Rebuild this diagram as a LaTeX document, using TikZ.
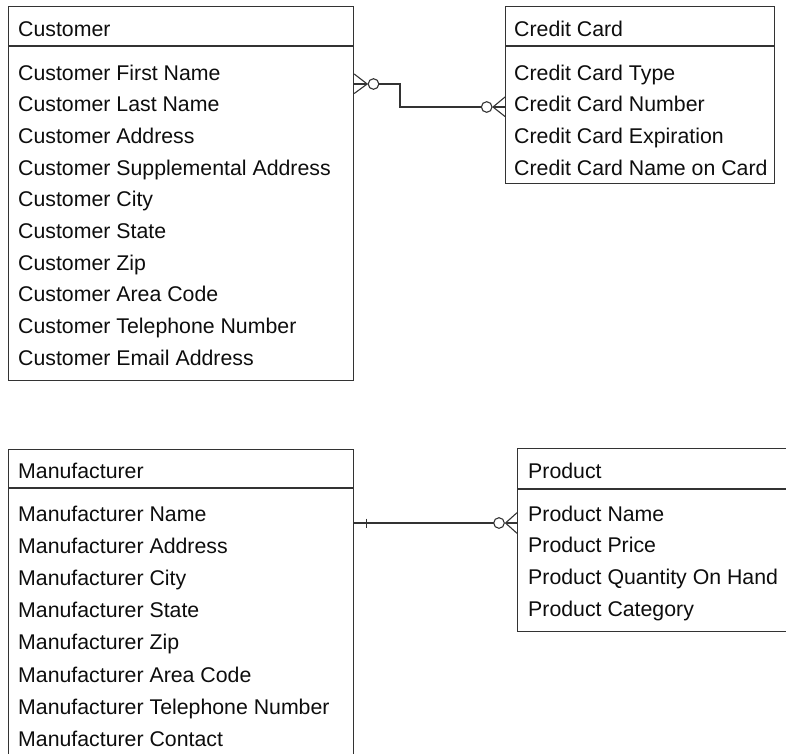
\documentclass[tikz,border=0pt]{standalone}
\usepackage{fontspec}
\setmainfont{Liberation Sans}
\usetikzlibrary{calc}
\begin{document}
\begin{tikzpicture}[x=1pt,y=-1pt,
  box/.style={draw=black!80,line width=1.2pt,inner sep=0pt,anchor=north west},
  sep/.style={draw=black!80,line width=1.2pt},
  conn/.style={draw=black!80,line width=1.1pt},
  txt/.style={anchor=base west,inner sep=0pt,text=black!95,font=\fontsize{21.3}{24}\selectfont}]
\useasboundingbox (0,0) rectangle (786,753);
\begin{scope}
\clip (0,0) rectangle (786,753);
% Customer
\node[box,minimum width=345pt,minimum height=374pt] (cust) at (8,6) {};
\draw[sep] (8,46) -- (353,46);
\node[txt] (custh) at (18,36) {Customer};
\foreach \t [count=\i from 0] in {Customer First Name,Customer Last Name,Customer Address,Customer Supplemental Address,Customer City,Customer State,Customer Zip,Customer Area Code,Customer Telephone Number,Customer Email Address}
  \node[txt] (cust\i) at (18,80+31.7*\i) {\t};
% Credit Card
\node[box,minimum width=269pt,minimum height=177pt] (cc) at (505,6) {};
\draw[sep] (505,46) -- (774,46);
\node[txt] (cch) at (514,36) {Credit Card};
\foreach \t [count=\i from 0] in {Credit Card Type,Credit Card Number,Credit Card Expiration,Credit Card Name on Card}
  \node[txt] (cc\i) at (514,80+31.7*\i) {\t};
% Manufacturer
\node[box,minimum width=345pt,minimum height=330pt] (man) at (8,449) {};
\draw[sep] (8,488) -- (353,488);
\node[txt] (manh) at (18,478) {Manufacturer};
\foreach \t [count=\i from 0] in {Manufacturer Name,Manufacturer Address,Manufacturer City,Manufacturer State,Manufacturer Zip,Manufacturer Area Code,Manufacturer Telephone Number,Manufacturer Contact}
  \node[txt] (man\i) at (18,521+32.2*\i) {\t};
% Product
\node[box,minimum width=290pt,minimum height=183pt] (prod) at (517,448) {};
\draw[sep] (517,489) -- (807,489);
\node[txt] (prodh) at (528,478) {Product};
\foreach \t [count=\i from 0] in {Product Name,Product Price,Product Quantity On Hand,Product Category}
  \node[txt] (prod\i) at (528,521+31.7*\i) {\t};
\end{scope}
% connector Customer - Credit Card
\coordinate (a1) at (cust.east |- 0,84);
\coordinate (a2) at (cc.west |- 0,107);
\draw[conn] (a1) ++(0,-10) -- ++(13,10) -- ++(-13,9.5);
\draw[conn] (a1) -- ++(13,0);
\draw[conn] ($(a1)+(19.3,0)$) circle (5.3);
\draw[conn] ($(a1)+(24.6,0)$) -- (400,84) -- (400,107) -- ($(a2)+(-23.6,0)$);
\draw[conn] ($(a2)+(-18.3,0)$) circle (5.3);
\draw[conn] (a2) ++(0,-10) -- ++(-12,10) -- ++(12,9.5);
\draw[conn] (a2) -- ++(-12,0);
% connector Manufacturer - Product
\coordinate (b1) at (man.east |- 0,523);
\coordinate (b2) at (prod.west |- 0,523);
\draw[conn] (b1) -- ($(b2)+(-23.3,0)$);
\draw[conn] ($(b1)+(12,-4.5)$) -- ++(0,9);
\draw[conn] ($(b2)+(-18,0)$) circle (5.3);
\draw[conn] (b2) ++(0,-10.3) -- ++(-11.5,10.3) -- ++(11.5,10.3);
\draw[conn] (b2) -- ++(-11.5,0);
\end{tikzpicture}
\end{document}
